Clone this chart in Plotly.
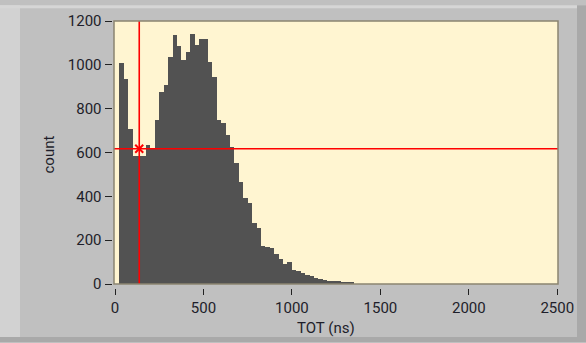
import numpy as np
import plotly.graph_objects as go

# ---- data ----
bin_width = 25
bin_start = 25
counts = [1009, 936, 706, 582, 582, 582, 634, 617, 747, 874,
          908, 1035, 1138, 1087, 1020, 1057, 1142, 1089, 1117, 1117,
          1015, 944, 748, 736, 682, 624, 553, 467, 392, 368,
          280, 257, 172, 168, 165, 136, 115, 90, 100, 66,
          60, 50, 40, 38, 30, 22, 17, 16, 16, 16,
          10, 10, 10]
bin_centers = bin_start + bin_width * np.arange(len(counts)) + bin_width / 2

cursor_x = 137
cursor_y = 617

x_ticks = [0, 500, 1000, 1500, 2000, 2500]
y_ticks = [0, 200, 400, 600, 800, 1000, 1200]

W, H = 586, 343
L, R, T, B = 100, 28, 16, 55
pw, ph = W - L - R, H - T - B

tickfont = dict(family="Roboto, Liberation Sans, sans-serif", size=15, color="#1e1e2a")

fig = go.Figure()
fig.add_trace(go.Bar(x=bin_centers, y=counts, width=bin_width,
                     marker=dict(color="#525252", line=dict(width=0)),
                     showlegend=False, hoverinfo="skip"))

# cursor lines
fig.add_trace(go.Scatter(x=[cursor_x, cursor_x], y=[0, 1200], mode="lines",
                         line=dict(color="#ff0000", width=1.6), showlegend=False))
fig.add_trace(go.Scatter(x=[-10, 2510], y=[cursor_y, cursor_y], mode="lines",
                         line=dict(color="#ff0000", width=1.6), showlegend=False))
fig.add_trace(go.Scatter(x=[cursor_x], y=[cursor_y], mode="markers",
                         marker=dict(symbol="x-thin-open", size=8, color="#ff0000",
                                     line=dict(color="#ff0000", width=2)),
                         showlegend=False))

fig.update_layout(
    width=W, height=H,
    margin=dict(l=L, r=R, t=T, b=B),
    paper_bgcolor="#c0c0c0",
    plot_bgcolor="#fff5d1",
    bargap=0,
    xaxis=dict(domain=[14 / pw, 1], range=[-5.65, 2504], anchor="free", position=0,
               tickvals=x_ticks, ticks="outside", ticklen=6, tickwidth=1, tickcolor="#222",
               showgrid=False, zeroline=False, showline=False, tickfont=tickfont),
    yaxis=dict(domain=[4 / ph, 1], range=[0, 1200], anchor="free", position=11.5 / pw,
               tickvals=y_ticks, ticks="outside", ticklen=7, tickwidth=1, tickcolor="#222",
               showgrid=False, zeroline=False, showline=False, tickfont=tickfont),
    shapes=[
        # outer panel bevel
        dict(type="rect", xref="paper", yref="paper", x0=-L / pw, x1=(-L + 20) / pw,
             y0=-B / ph, y1=1 + T / ph, fillcolor="#d2d2d2", line=dict(width=0), layer="below"),
        dict(type="rect", xref="paper", yref="paper", x0=-L / pw, x1=1 + R / pw,
             y0=1 + (T - 3) / ph, y1=1 + T / ph, fillcolor="#d6d6d6", line=dict(width=0), layer="below"),
        dict(type="rect", xref="paper", yref="paper", x0=1 + (R - 9) / pw, x1=1 + R / pw,
             y0=-B / ph, y1=1 + T / ph, fillcolor="#a9a9a9", line=dict(width=0), layer="below"),
        dict(type="rect", xref="paper", yref="paper", x0=-L / pw, x1=1 + R / pw,
             y0=-B / ph, y1=(-B + 5) / ph, fillcolor="#a9a9a9", line=dict(width=0), layer="below"),
        # plot frame
        dict(type="rect", xref="x domain", yref="y domain", x0=0, x1=1, y0=0, y1=1,
             line=dict(color="#8a8470", width=1.5), fillcolor="rgba(0,0,0,0)"),
    ],
    annotations=[
        dict(text="count", xref="paper", yref="paper", x=0, y=0.5, xanchor="center",
             yanchor="middle", xshift=-52, textangle=-90, showarrow=False,
             font=dict(family="Roboto, Liberation Sans, sans-serif", size=15, color="#1e1e2a")),
        dict(text="TOT (ns)", xref="paper", yref="paper", x=0.5, y=0, xanchor="center",
             yanchor="middle", xshift=-3, yshift=-40, showarrow=False,
             font=dict(family="Roboto, Liberation Sans, sans-serif", size=15, color="#1e1e2a")),
    ],
)

fig.write_html("out.html")
